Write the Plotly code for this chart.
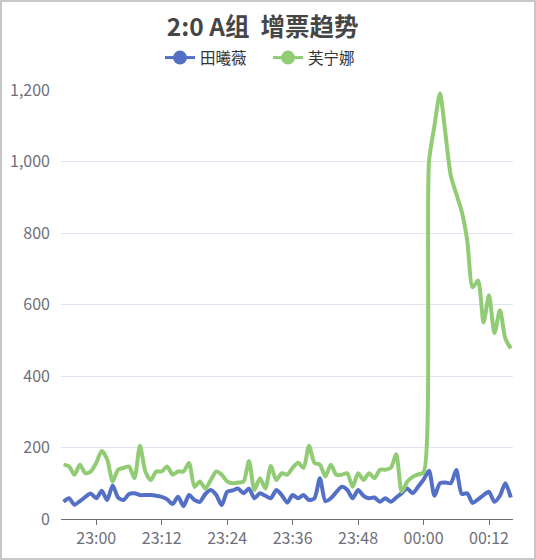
import pandas as pd
import plotly.graph_objects as go

# Data: one sample per minute, 22:54 -> 00:16
start_time = "2024-01-01 22:54"
tian_xiwei = [48, 58, 40, 50, 62, 71, 58, 79, 53, 94, 60, 53, 70, 72, 67, 67, 67, 65, 62, 55,
              42, 62, 36, 67, 53, 48, 70, 81, 67, 39, 76, 80, 85, 72, 85, 58, 72, 65, 58, 81,
              67, 46, 67, 58, 67, 53, 58, 114, 50, 58, 75, 90, 82, 58, 81, 65, 58, 60, 48, 58,
              48, 60, 72, 85, 72, 90, 110, 135, 65, 100, 102, 100, 137, 70, 72, 45, 55, 67, 76, 48,
              65, 100, 60]
fu_ningna = [152, 147, 124, 152, 128, 133, 157, 190, 167, 105, 138, 143, 147, 114, 205, 133, 109, 133, 133, 147,
             124, 133, 133, 157, 90, 105, 85, 109, 133, 124, 105, 100, 102, 105, 162, 81, 114, 85, 148, 109,
             128, 124, 143, 157, 143, 205, 157, 152, 119, 152, 124, 124, 128, 90, 128, 109, 128, 114, 138, 138,
             143, 181, 76, 104, 118, 125, 130, 1000, 1100, 1190, 1080, 960, 910, 860, 780, 648, 667, 550, 626, 520,
             584, 505, 477]
series_names = ["田曦薇", "芙宁娜"]
series_colors = ["#5470c6", "#91cc75"]
y_ticks = [0, 200, 400, 600, 800, 1000, 1200]
title_text = "2:0 A组\u00a0\u00a0增票趋势"

times = pd.date_range(start=start_time, periods=len(tian_xiwei), freq="1min")

fig = go.Figure()
for name, vals, col in zip(series_names, [tian_xiwei, fu_ningna], series_colors):
    fig.add_trace(go.Scatter(
        x=times, y=vals, mode="lines", name=name, showlegend=False,
        line=dict(color=col, width=4, shape="spline", smoothing=0.7),
        hoverinfo="x+y+name",
    ))
    # legend proxy with circle icon
    fig.add_trace(go.Scatter(
        x=[None], y=[None], mode="lines+markers", name=name,
        line=dict(color=col, width=3), marker=dict(color=col, size=14, symbol="circle"),
    ))

W, H = 536, 560
ml, mr, mt, mb = 61, 23, 90, 41
pw, ph = W - ml - mr, H - mt - mb

fig.update_layout(
    width=W, height=H,
    margin=dict(l=ml, r=mr, t=mt, b=mb, pad=0, autoexpand=False),
    paper_bgcolor="white", plot_bgcolor="white",
    font=dict(family="Noto Sans CJK SC, Noto Sans, sans-serif", color="#6e7079", size=15),
    title=dict(text="<b>" + title_text + "</b>", x=0.49, xanchor="center", xref="container",
               y=1 - 27 / H, yanchor="middle", yref="container",
               font=dict(size=24.5, color="#464646")),
    legend=dict(orientation="h", xref="container", x=160 / W, xanchor="left",
                yref="container", y=1 - 58 / H, yanchor="middle",
                font=dict(size=15.5, color="#333333"), itemwidth=30,
                entrywidth=63, entrywidthmode="pixels",
                bgcolor="rgba(0,0,0,0)"),
    showlegend=True,
    xaxis=dict(
        type="date",
        range=["2024-01-01 22:53:32", "2024-01-02 00:16:24"],
        tick0="2024-01-01 23:00", dtick=12 * 60 * 1000, tickformat="%H:%M",
        showgrid=False, zeroline=False,
        showline=True, linecolor="#6e7079", linewidth=1,
        ticks="outside", ticklen=5, tickcolor="#6e7079", tickwidth=1,
        tickfont=dict(size=16, color="#6e7079"),
        fixedrange=True,
    ),
    yaxis=dict(
        range=[0, 1200], tickvals=y_ticks, tickformat=",d",
        showgrid=True, gridcolor="#e0e6f1", gridwidth=1,
        zeroline=False, showline=False, ticks="", ticklabelstandoff=10,
        tickfont=dict(size=16, color="#6e7079"),
        fixedrange=True,
    ),
    hovermode="x unified",
)

# outer frame border
fig.add_shape(type="rect", xref="paper", yref="paper",
              x0=(-ml + 1) / pw, x1=1 + (mr - 1) / pw,
              y0=(-mb + 1) / ph, y1=1 + (mt - 1) / ph,
              line=dict(color="#c8c8c8", width=2), fillcolor="rgba(0,0,0,0)", layer="below")

fig.write_html("out.html", config={"displayModeBar": False},
               post_script="document.body.style.margin='0';document.body.style.overflow='hidden';")
